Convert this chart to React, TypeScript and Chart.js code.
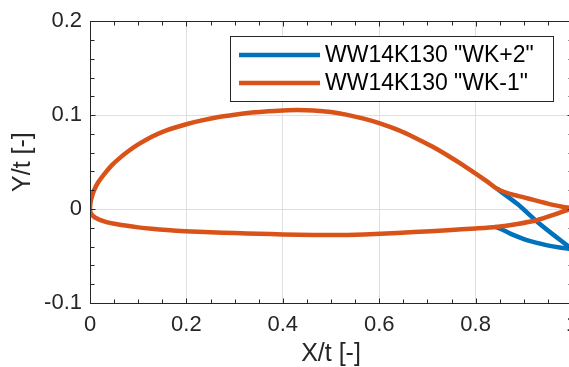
import React, { useEffect, useRef } from 'react';
import { Chart, registerables } from 'chart.js';

Chart.register(...registerables);

const FONT = '"Liberation Sans", Arial, Helvetica, sans-serif';
const AXIS_COLOR = '#262626';
const GRID_COLOR = '#dfdfdf';

const seriesNames = ['WW14K130 "WK+2"', 'WW14K130 "WK-1"'];
const seriesColors = ['#0072BD', '#D95319'];

// Shared upper surface: leading edge -> kink (~0.845)
const upperX = [0, 0.001, 0.0035, 0.008, 0.017, 0.03, 0.045, 0.062, 0.08, 0.1, 0.128, 0.16, 0.198, 0.23, 0.267, 0.3, 0.336, 0.37, 0.4, 0.43, 0.464, 0.5, 0.534, 0.57, 0.603, 0.64, 0.672, 0.71, 0.742, 0.77, 0.804, 0.825, 0.845];
const upperY = [0, 0.0065, 0.0125, 0.0195, 0.0285, 0.0375, 0.0465, 0.0545, 0.0618, 0.0688, 0.077, 0.084, 0.09, 0.0942, 0.098, 0.1005, 0.1027, 0.1042, 0.105, 0.1055, 0.105, 0.1033, 0.1003, 0.096, 0.091, 0.084, 0.0765, 0.0665, 0.057, 0.048, 0.0365, 0.029, 0.0215];

// Shared lower surface: leading edge -> kink (~0.842)
const lowerX = [0, 0.002, 0.0104, 0.031, 0.05, 0.073, 0.1, 0.128, 0.16, 0.198, 0.25, 0.301, 0.35, 0.4, 0.464, 0.534, 0.603, 0.672, 0.742, 0.8, 0.842];
const lowerY = [0, -0.0045, -0.009, -0.0134, -0.0157, -0.0176, -0.0195, -0.021, -0.0223, -0.0236, -0.0247, -0.0256, -0.0263, -0.027, -0.0276, -0.0275, -0.0263, -0.0245, -0.0225, -0.0206, -0.019];

// "WK+2" trailing-edge flap
const wk2TailUpperX = [0.845, 0.887, 0.929, 0.963, 1.0];
const wk2TailUpperY = [0.0215, 0.0053, -0.014, -0.028, -0.0425];
const wk2TailLowerX = [0.842, 0.873, 0.908, 0.949, 0.975, 1.0];
const wk2TailLowerY = [-0.019, -0.0264, -0.0334, -0.0387, -0.041, -0.0425];

// "WK-1" trailing-edge flap
const wk1TailUpperX = [0.845, 0.873, 0.9, 0.922, 0.945, 0.963, 0.98, 1.0];
const wk1TailUpperY = [0.0215, 0.0158, 0.0125, 0.0095, 0.0065, 0.0042, 0.0025, 0.001];
const wk1TailLowerX = [0.842, 0.887, 0.929, 0.963, 0.985, 1.0];
const wk1TailLowerY = [-0.019, -0.0158, -0.0116, -0.006, -0.002, 0.001];

// x where the two contours start to differ
const SPLIT_X = 0.845;

const X_MIN = 0, X_MAX = 1, X_STEP = 0.2, X_MINOR = 0.05;
const Y_MIN = -0.1, Y_MAX = 0.2, Y_STEP = 0.1, Y_MINOR = 0.02;

function contour(tuX: number[], tuY: number[], tlX: number[], tlY: number[]) {
  const pts: { x: number; y: number }[] = [];
  for (let i = tuX.length - 1; i >= 1; i--) pts.push({ x: tuX[i], y: tuY[i] });
  for (let i = upperX.length - 1; i >= 0; i--) pts.push({ x: upperX[i], y: upperY[i] });
  for (let i = 1; i < lowerX.length; i++) pts.push({ x: lowerX[i], y: lowerY[i] });
  for (let i = 1; i < tlX.length; i++) pts.push({ x: tlX[i], y: tlY[i] });
  return pts;
}

const fmt = (v: number) => String(Math.round(v * 10) / 10);

const framePlugin = {
  id: 'frame',
  afterDatasetsDraw(chart: any) {
    const { ctx, chartArea: a, scales } = chart;
    const xs = scales.x, ys = scales.y;
    const L = Math.round(a.left) + 0.5, R = Math.round(a.right) + 0.5;
    const T = Math.round(a.top) + 0.5, B = Math.round(a.bottom) + 0.5;
    ctx.save();
    ctx.strokeStyle = AXIS_COLOR;
    ctx.lineWidth = 1;
    ctx.beginPath();
    const nx = Math.round((X_MAX - X_MIN) / X_MINOR);
    for (let i = 0; i <= nx; i++) {
      const v = X_MIN + i * X_MINOR;
      const major = Math.abs(v / X_STEP - Math.round(v / X_STEP)) < 1e-6;
      const len = major ? 5 : 4;
      const px = Math.round(xs.getPixelForValue(v)) + 0.5;
      ctx.moveTo(px, B); ctx.lineTo(px, B - len);
      ctx.moveTo(px, T); ctx.lineTo(px, T + len);
    }
    const ny = Math.round((Y_MAX - Y_MIN) / Y_MINOR);
    for (let i = 0; i <= ny; i++) {
      const v = Y_MIN + i * Y_MINOR;
      const major = Math.abs(v / Y_STEP - Math.round(v / Y_STEP)) < 1e-6;
      const len = major ? 5 : 4;
      const py = Math.round(ys.getPixelForValue(v)) + 0.5;
      ctx.moveTo(L, py); ctx.lineTo(L + len, py);
      ctx.moveTo(R, py); ctx.lineTo(R - len, py);
    }
    ctx.stroke();
    ctx.strokeRect(L, T, R - L, B - T);
    ctx.restore();
  },
};

const legendPlugin = {
  id: 'boxLegend',
  afterDraw(chart: any) {
    const { ctx, chartArea: a } = chart;
    const w = 323, h = 65;
    const right = Math.round(a.right) - 19;
    const left = right - w;
    const top = Math.round(a.top) + 15;
    ctx.save();
    ctx.fillStyle = '#ffffff';
    ctx.fillRect(left, top, w, h);
    ctx.strokeStyle = AXIS_COLOR;
    ctx.lineWidth = 1;
    ctx.strokeRect(left + 0.5, top + 0.5, w, h);
    const rows = [top + 19, top + 47];
    ctx.font = `23px ${FONT}`;
    ctx.textBaseline = 'middle';
    ctx.textAlign = 'left';
    seriesNames.forEach((name, i) => {
      ctx.strokeStyle = seriesColors[i];
      ctx.lineWidth = 4.5;
      ctx.beginPath();
      ctx.moveTo(left + 9, rows[i]);
      ctx.lineTo(left + 90, rows[i]);
      ctx.stroke();
      ctx.fillStyle = '#000000';
      ctx.fillText(name, left + 95, rows[i] + 1);
    });
    ctx.restore();
  },
};

export default function App() {
  const ref = useRef<HTMLCanvasElement>(null);
  useEffect(() => {
    if (!ref.current) return;
    const chart = new Chart(ref.current, {
      type: 'scatter',
      data: {
        datasets: [
          {
            label: seriesNames[0],
            data: contour(wk2TailUpperX, wk2TailUpperY, wk2TailLowerX, wk2TailLowerY),
            borderColor: seriesColors[0],
            backgroundColor: seriesColors[0],
            showLine: true,
            borderWidth: 4.5,
            pointRadius: 0,
            tension: 0.2,
            borderJoinStyle: 'round',
            borderCapStyle: 'round',
            // shared part is hidden beneath the orange contour anyway
            segment: {
              borderColor: (c: any) =>
                Math.max(c.p0.parsed.x, c.p1.parsed.x) <= SPLIT_X ? 'rgba(0,0,0,0)' : undefined,
            },
            order: 1,
          },
          {
            label: seriesNames[1],
            data: contour(wk1TailUpperX, wk1TailUpperY, wk1TailLowerX, wk1TailLowerY),
            borderColor: seriesColors[1],
            backgroundColor: seriesColors[1],
            showLine: true,
            borderWidth: 4.5,
            pointRadius: 0,
            tension: 0.2,
            borderJoinStyle: 'round',
            borderCapStyle: 'round',
            order: 0,
          },
        ],
      },
      options: {
        responsive: false,
        animation: false,
        devicePixelRatio: 1,
        layout: { padding: { top: 18, right: 28, left: 0, bottom: 0 } },
        plugins: { legend: { display: false }, tooltip: { enabled: false } },
        scales: {
          x: {
            type: 'linear',
            min: X_MIN,
            max: X_MAX,
            ticks: {
              stepSize: X_STEP,
              padding: 9,
              color: AXIS_COLOR,
              font: { family: FONT, size: 22 },
              maxRotation: 0,
              callback: (v: any) => fmt(Number(v)),
            },
            grid: { color: GRID_COLOR, lineWidth: 1, drawTicks: false },
            border: { display: false },
            title: {
              display: true,
              text: 'X/t [-]',
              color: AXIS_COLOR,
              font: { family: FONT, size: 25, lineHeight: 1 },
              padding: { top: 0, bottom: 0 },
            },
            afterFit: (s: any) => { s.height = 64; },
          },
          y: {
            type: 'linear',
            min: Y_MIN,
            max: Y_MAX,
            ticks: {
              stepSize: Y_STEP,
              padding: 8,
              color: AXIS_COLOR,
              font: { family: FONT, size: 22 },
              callback: (v: any) => fmt(Number(v)),
            },
            grid: { color: GRID_COLOR, lineWidth: 1, drawTicks: false },
            border: { display: false },
            title: {
              display: true,
              text: 'Y/t [-]',
              color: AXIS_COLOR,
              font: { family: FONT, size: 25, lineHeight: 1 },
              padding: { top: 11, bottom: 0 },
            },
            afterFit: (s: any) => { s.width = 90; },
          },
        },
      },
      plugins: [framePlugin, legendPlugin],
    } as any);
    return () => chart.destroy();
  }, []);
  return (
    <div style={{ position: 'absolute', left: 0, top: 0, width: 569, height: 367, overflow: 'hidden', background: '#ffffff' }}>
      <canvas ref={ref} width={600} height={367} style={{ display: 'block', width: 600, height: 367 }} />
    </div>
  );
}
